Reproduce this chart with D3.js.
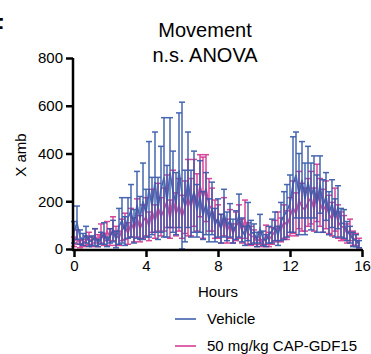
<!DOCTYPE html>
<html>
<head>
<meta charset="utf-8">
<script src="https://cdn.jsdelivr.net/npm/d3@7"></script>
<style>
  body { margin: 0; background: #fff; }
  text { font-family: "Liberation Sans", Arial, sans-serif; fill: #000; }
</style>
</head>
<body>
<div id="chart"></div>
<script>
// 10-minute bins over 16 hours
const binsPerHour = 6;

const vehicleMean = [
  70, 110, 50, 40, 60, 30,
  35, 50, 25, 45, 65, 30,
  55, 75, 40, 95, 120, 75,
  130, 160, 95, 185, 130, 200,
  150, 250, 180, 280, 170, 250,
  300, 200, 320, 240, 190, 330,
  230, 180, 290, 190, 240, 160,
  220, 140, 190, 120, 170, 100,
  130, 85, 150, 95, 120, 75,
  100, 140, 80, 55, 115, 70,
  65, 40, 85, 45, 35, 60,
  75, 95, 55, 115, 140, 160,
  190, 270, 310, 230, 290, 210,
  280, 220, 260, 190, 270, 180,
  220, 150, 190, 130, 175, 110,
  105, 75, 60, 40, 35, 20
];
const vehicleErr = [
  45, 70, 30, 25, 35, 20,
  20, 35, 15, 25, 45, 20,
  30, 45, 35, 75, 95, 60,
  85, 110, 70, 140, 90, 160,
  100, 200, 120, 210, 130, 180,
  250, 150, 230, 170, 130, 240,
  385, 150, 200, 140, 170, 110,
  150, 100, 130, 90, 110, 70,
  80, 60, 100, 60, 70, 50,
  60, 90, 50, 40, 80, 50,
  40, 30, 60, 30, 25, 35,
  50, 60, 40, 80, 100, 110,
  120, 200, 180, 170, 160, 150,
  150, 140, 130, 120, 120, 110,
  100, 90, 100, 80, 90, 60,
  60, 40, 35, 30, 25, 15
];
const gdfMean = [
  30, 50, 20, 25, 35, 45,
  30, 55, 35, 65, 40, 75,
  50, 85, 55, 45, 80, 95,
  65, 110, 80, 130, 85, 115,
  135, 95, 160, 115, 175, 135,
  165, 200, 125, 210, 145, 185,
  135, 175, 215, 175, 235, 195,
  265, 215, 255, 185, 165, 125,
  115, 85, 135, 75, 105, 65,
  95, 115, 75, 125, 65, 55,
  50, 30, 45, 25, 60, 40,
  55, 75, 95, 80, 115, 100,
  135, 175, 145, 205, 175, 165,
  195, 215, 165, 235, 195, 160,
  185, 145, 125, 165, 115, 95,
  90, 65, 80, 45, 40, 25
];
const gdfErr = [
  20, 30, 15, 15, 20, 25,
  20, 30, 25, 40, 25, 40,
  35, 50, 40, 30, 45, 55,
  45, 60, 50, 80, 55, 70,
  80, 60, 90, 70, 100, 80,
  90, 110, 80, 120, 90, 110,
  90, 110, 160, 120, 140, 120,
  130, 170, 140, 110, 90, 80,
  70, 60, 80, 50, 60, 40,
  60, 70, 50, 80, 45, 40,
  30, 20, 25, 15, 40, 30,
  35, 45, 60, 50, 70, 60,
  80, 110, 90, 120, 100, 90,
  100, 110, 90, 120, 100, 90,
  100, 80, 70, 90, 70, 60,
  50, 40, 45, 30, 25, 20
];

const seriesNames = ["Vehicle", "50 mg/kg CAP-GDF15"];
const seriesColors = ["#3356a8", "#d4328f"];
const yTicks = [0, 200, 400, 600, 800];
const xTicks = [0, 4, 8, 12, 16];

const width = 371, height = 354;
const svg = d3.select("#chart").append("svg")
  .attr("width", width)
  .attr("height", height);

const x = d3.scaleLinear().domain([0, 16]).range([74, 362]);
const y = d3.scaleLinear().domain([0, 800]).range([249, 58]);

function toRows(means, errs) {
  return means.map((m, i) => ({ t: i / binsPerHour, m: m, e: errs[i] }));
}

const series = [
  { name: seriesNames[0], color: seriesColors[0], rows: toRows(vehicleMean, vehicleErr) },
  { name: seriesNames[1], color: seriesColors[1], rows: toRows(gdfMean, gdfErr) }
];

const line = d3.line().x(d => x(d.t)).y(d => y(d.m));
const cap = 3;

// draw magenta first so vehicle lies on top
[series[1], series[0]].forEach(s => {
  const g = svg.append("g").attr("stroke", s.color).attr("fill", "none")
    .attr("stroke-width", 1.5).attr("opacity", 0.9);
  const bars = g.selectAll("g.err").data(s.rows).enter().append("g");
  bars.append("line")
    .attr("x1", d => x(d.t)).attr("x2", d => x(d.t))
    .attr("y1", d => y(Math.max(0, d.m - d.e))).attr("y2", d => y(d.m + d.e));
  bars.append("line")
    .attr("x1", d => x(d.t) - cap).attr("x2", d => x(d.t) + cap)
    .attr("y1", d => y(d.m + d.e)).attr("y2", d => y(d.m + d.e));
  bars.append("line")
    .attr("x1", d => x(d.t) - cap).attr("x2", d => x(d.t) + cap)
    .attr("y1", d => y(Math.max(0, d.m - d.e))).attr("y2", d => y(Math.max(0, d.m - d.e)));
  g.append("path").attr("d", line(s.rows)).attr("stroke-width", 1.6);
});

// axes
const yAxis = svg.append("g")
  .attr("transform", "translate(73,0)")
  .call(d3.axisLeft(y).tickValues(yTicks).tickSize(7).tickPadding(3));
const xAxis = svg.append("g")
  .attr("transform", "translate(0,250)")
  .call(d3.axisBottom(x).tickValues(xTicks).tickSize(7).tickPadding(3));

[yAxis, xAxis].forEach(a => {
  a.select(".domain").attr("stroke-width", 2.5);
  a.selectAll(".tick line").attr("stroke-width", 2.5);
  a.selectAll(".tick text")
    .style("font-family", "'Liberation Sans', Arial, sans-serif")
    .style("font-size", "15px").attr("fill", "#000");
});
yAxis.select(".domain").attr("d", "M0,58V251");
xAxis.select(".domain").attr("d", "M72,0H363");

// titles
svg.append("text").attr("x", 205).attr("y", 37).attr("text-anchor", "middle")
  .style("font-size", "20px").text("Movement");
svg.append("text").attr("x", 205).attr("y", 62).attr("text-anchor", "middle")
  .style("font-size", "20px").text("n.s. ANOVA");
svg.append("text").attr("transform", "translate(26,155) rotate(-90)")
  .attr("text-anchor", "middle").style("font-size", "15px").text("X amb");
svg.append("text").attr("x", 218).attr("y", 297).attr("text-anchor", "middle")
  .style("font-size", "15px").text("Hours");
// panel letter, clipped at the left edge as in the source figure
svg.append("text").attr("x", -11).attr("y", 35)
  .style("font-size", "24px").style("font-weight", "bold").text("F");

// legend
const legend = svg.append("g");
series.forEach((s, i) => {
  const ly = 319 + i * 27;
  legend.append("line").attr("x1", 175).attr("x2", 196)
    .attr("y1", ly).attr("y2", ly).attr("stroke", s.color).attr("stroke-width", 1.5);
  legend.append("text").attr("x", 207).attr("y", ly + 5)
    .style("font-size", "15px").text(s.name);
});
</script>
</body>
</html>
